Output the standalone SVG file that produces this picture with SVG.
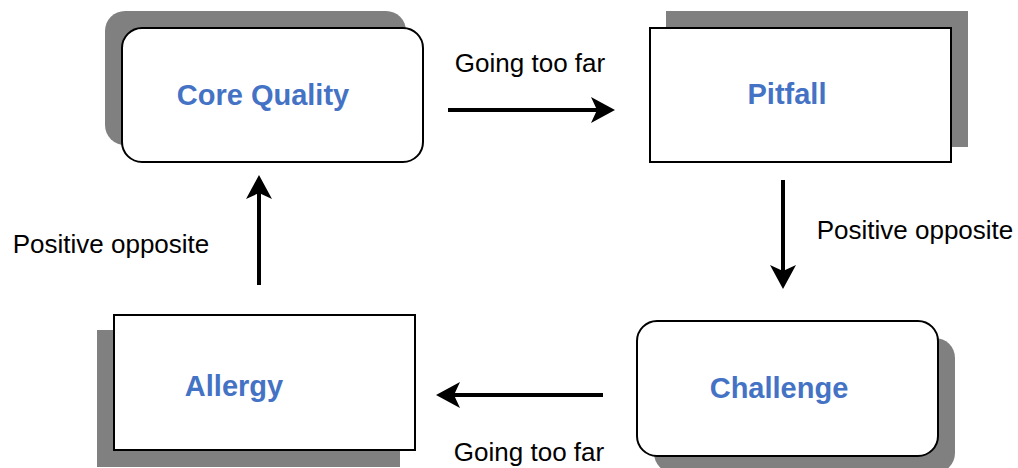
<svg xmlns="http://www.w3.org/2000/svg" width="1018" height="468" viewBox="0 0 1018 468">
  <style>
    .shadow { fill: #808080; stroke: none; }
    .box { fill: #ffffff; stroke: #000000; stroke-width: 2; }
    .title { font-family: "Liberation Sans", Arial, sans-serif; font-weight: bold; font-size: 29px; fill: #4472C4; }
    .label { font-family: "Liberation Sans", Arial, sans-serif; font-size: 26px; fill: #000000; }
    .conn { stroke: #000000; stroke-width: 4; fill: none; marker-end: url(#head); }
  </style>
  <defs>
    <marker id="head" markerUnits="userSpaceOnUse" viewBox="-8 -14 28 28" markerWidth="28" markerHeight="28" refX="0" refY="0" orient="auto">
      <path d="M18,0 L-6,-13 L0,0 L-6,13 Z" fill="#000000"/>
    </marker>
  </defs>
  <rect width="1018" height="468" fill="#ffffff"/>

  <g id="core-quality">
    <rect class="shadow" x="105" y="11" width="301" height="134" rx="20"/>
    <rect class="box" x="122" y="28" width="301" height="134" rx="20"/>
    <text class="title" x="263" y="105" text-anchor="middle">Core Quality</text>
  </g>

  <g id="pitfall">
    <rect class="shadow" x="666" y="11" width="302" height="136"/>
    <rect class="box" x="650" y="28" width="301" height="134"/>
    <text class="title" x="787" y="104" text-anchor="middle">Pitfall</text>
  </g>

  <g id="challenge">
    <rect class="shadow" x="654" y="338" width="301" height="135" rx="20"/>
    <rect class="box" x="637" y="321" width="301" height="135" rx="20"/>
    <text class="title" x="779" y="398" text-anchor="middle">Challenge</text>
  </g>

  <g id="allergy">
    <rect class="shadow" x="97" y="330" width="303" height="137"/>
    <rect class="box" x="114" y="315" width="301" height="135"/>
    <text class="title" x="234" y="396" text-anchor="middle">Allergy</text>
  </g>

  <g id="connectors">
    <line class="conn" x1="448" y1="110" x2="597" y2="110"/>
    <line class="conn" x1="783" y1="180" x2="783" y2="271"/>
    <line class="conn" x1="603" y1="395" x2="454" y2="395"/>
    <line class="conn" x1="259" y1="285" x2="259" y2="193"/>
    <text class="label" x="530" y="72" text-anchor="middle">Going too far</text>
    <text class="label" x="915" y="239" text-anchor="middle">Positive opposite</text>
    <text class="label" x="529" y="461" text-anchor="middle">Going too far</text>
    <text class="label" x="111" y="253" text-anchor="middle">Positive opposite</text>
  </g>
</svg>
